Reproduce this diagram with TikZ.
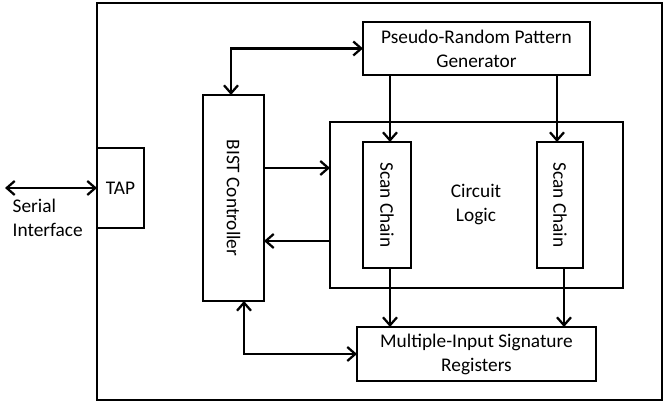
\documentclass[tikz,border=0pt]{standalone}
\usepackage{fontspec}
\setmainfont{Carlito}
\usetikzlibrary{arrows.meta}
\begin{document}
\begin{tikzpicture}[x=0.75pt,y=-0.75pt,
  every node/.style={font=\fontsize{14.5}{18}\selectfont},
  blk/.style={draw,line width=2.1pt,inner sep=0pt,outer sep=0pt,align=center},
  tip/.style={Straight Barb[length=6pt,width=10.5pt,line width=1.7pt]},
  wire/.style={line width=2.1pt,-{Straight Barb[length=6pt,width=10.5pt,line width=1.7pt]}},
  wire2/.style={line width=2.1pt,{Straight Barb[length=6pt,width=10.5pt,line width=1.7pt]}-{Straight Barb[length=6pt,width=10.5pt,line width=1.7pt]}}]
\useasboundingbox (0,0) rectangle (665,402);

% chip outline and blocks
\node[blk,minimum width=565*0.75pt,minimum height=397*0.75pt] (soc) at (379.5,201.5) {};
\node[blk,minimum width=47*0.75pt,minimum height=80*0.75pt] (tap) at (120.5,188) {TAP};
\node[blk,minimum width=227*0.75pt,minimum height=53*0.75pt] (prpg) at (476.5,48.5) {Pseudo-Random Pattern\\Generator};
\node[blk,minimum width=61*0.75pt,minimum height=206*0.75pt] (bist) at (233.5,198) {};
\node[rotate=-90] at (bist.center) {BIST Controller};
\node[blk,minimum width=293*0.75pt,minimum height=166*0.75pt] (cl) at (476.5,205) {};
\node[align=center] (cltext) at (476,205) {Circuit\\Logic};
\node[blk,minimum width=48*0.75pt,minimum height=126*0.75pt] (sc1) at (387,205) {};
\node[rotate=-90] at (sc1.center) {Scan Chain};
\node[blk,minimum width=46*0.75pt,minimum height=126*0.75pt] (sc2) at (560,205) {};
\node[rotate=-90] at (sc2.center) {Scan Chain};
\node[blk,minimum width=239*0.75pt,minimum height=54*0.75pt] (misr) at (476.5,354) {Multiple-Input Signature\\Registers};

% serial interface
\coordinate (ext) at (5,188);
\draw[wire2] (ext) -- (tap.west);
\node[align=left,anchor=north west] (sitext) at (8,194) {Serial\\Interface};

% controller links
\draw[wire2] (bist.north -| 231,0) |- (prpg.west);
\draw[wire2] (bist.south -| 244,0) |- (misr.west);
\draw[wire] (bist.east |- 0,168) -- (cl.west |- 0,168);
\draw[wire] (cl.west |- 0,241) -- (bist.east |- 0,241);

% pattern generator to scan chains
\draw[wire] (prpg.south -| 390,0) -- (sc1.north -| 390,0);
\draw[wire] (prpg.south -| 557,0) -- (sc2.north -| 557,0);

% scan chains to signature registers
\draw[wire] (sc1.south -| 390,0) -- (misr.north -| 390,0);
\draw[wire] (sc2.south -| 564,0) -- (misr.north -| 564,0);
\end{tikzpicture}
\end{document}
